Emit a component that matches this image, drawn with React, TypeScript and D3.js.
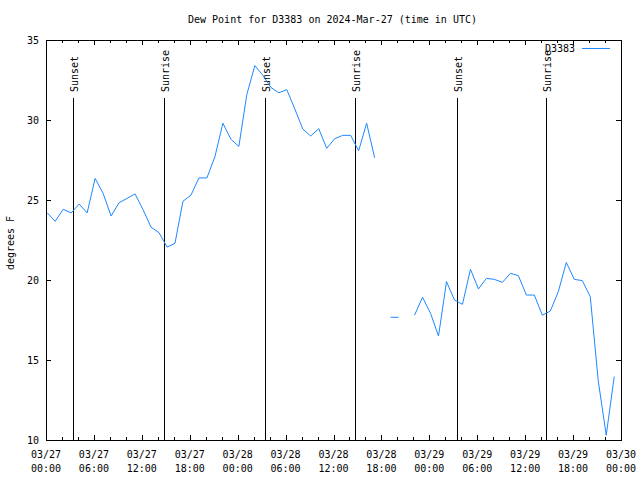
import React from "react";
import * as d3 from "d3";

const title = "Dew Point for D3383 on 2024-Mar-27 (time in UTC)";
const yLabel = "degrees F";
const seriesName = "D3383";

// hourly observations starting 2024-03-27 00:xx UTC
const startTime = "2024-03-27T00:00:00Z";
const obsMinute = 9;
const dewPoint: (number | null)[] = [
  24.2, 23.67, 24.42, 24.19, 24.75, 24.19, 26.35, 25.42, 24.0, 24.83,
  25.1, 25.38, 24.4, 23.3, 22.96, 22.06, 22.29, 24.92, 25.3, 26.38,
  26.38, 27.7, 29.8, 28.8, 28.35, 31.6, 33.4, 32.8, 32.04, 31.7,
  31.9, 30.7, 29.44, 29.0, 29.46, 28.23, 28.83, 29.04, 29.04, 28.08,
  29.8, 27.64, null, 17.67, 17.67, null, 17.8, 18.92, 17.92, 16.5,
  19.9, 18.75, 18.48, 20.67, 19.44, 20.1, 20.04, 19.85, 20.42, 20.27,
  19.06, 19.06, 17.8, 18.06, 19.27, 21.1, 20.04, 19.96, 18.96, 13.7,
  10.3, 13.96,
];

const sunEvents = [
  { label: "Sunset", time: "2024-03-27T03:25:00Z" },
  { label: "Sunrise", time: "2024-03-27T14:49:00Z" },
  { label: "Sunset", time: "2024-03-28T03:28:00Z" },
  { label: "Sunrise", time: "2024-03-28T14:44:00Z" },
  { label: "Sunset", time: "2024-03-29T03:30:00Z" },
  { label: "Sunrise", time: "2024-03-29T14:39:00Z" },
];

const xDomain = ["2024-03-27T00:00:00Z", "2024-03-30T00:00:00Z"];
const yDomain = [10, 35];
const yTicks = [10, 15, 20, 25, 30, 35];

const W = 640;
const H = 480;
const left = 46;
const right = 621;
const top = 40;
const bottom = 440;
const FONT = "'DejaVu Sans Mono', 'Liberation Mono', monospace";
const LINE_COLOR = "#1e88ff";

export default function App() {
  const x = d3
    .scaleUtc()
    .domain(xDomain.map((d) => new Date(d)))
    .range([left, right]);
  const y = d3.scaleLinear().domain(yDomain).range([bottom, top]);

  const t0 = new Date(startTime).getTime();
  const pts = dewPoint.map((v, i) => ({
    t: new Date(t0 + (i * 60 + obsMinute) * 60000),
    v,
  }));

  const line = d3
    .line<{ t: Date; v: number | null }>()
    .defined((d) => d.v != null)
    .x((d) => x(d.t))
    .y((d) => y(d.v as number));

  const minorTicks = x.ticks(d3.utcHour.every(2)!);
  const majorTicks = x.ticks(d3.utcHour.every(6)!);
  const fmtDate = d3.utcFormat("%m/%d");
  const fmtTime = d3.utcFormat("%H:%M");

  return (
    <svg
      width={W}
      height={H}
      style={{ position: "absolute", left: 0, top: 0, background: "#fff" }}
      fontFamily={FONT}
      fontSize={10}
    >
      <rect x={0} y={0} width={W} height={H} fill="#fff" />
      <text x={(left + right) / 2 - 1} y={23} textAnchor="middle" fill="#000">
        {title}
      </text>

      {/* y axis ticks + labels */}
      {yTicks.map((t) => (
        <g key={"y" + t}>
          <line x1={left} x2={left + 5} y1={Math.round(y(t)) + 0.5} y2={Math.round(y(t)) + 0.5} stroke="#000" />
          <line x1={right - 5} x2={right} y1={Math.round(y(t)) + 0.5} y2={Math.round(y(t)) + 0.5} stroke="#000" />
          <text x={39} y={y(t) + 4} textAnchor="end" fill="#000">
            {t}
          </text>
        </g>
      ))}

      {/* x ticks */}
      {minorTicks.map((t) => {
        const isMajor = t.getUTCHours() % 6 === 0;
        const len = isMajor ? 5 : 3;
        const xx = Math.round(x(t)) + 0.5;
        return (
          <g key={"xm" + t.getTime()}>
            <line x1={xx} x2={xx} y1={bottom} y2={bottom - len} stroke="#000" />
            <line x1={xx} x2={xx} y1={top} y2={top + len} stroke="#000" />
          </g>
        );
      })}
      {majorTicks.map((t) => (
        <g key={"xl" + t.getTime()}>
          <text x={x(t)} y={458} textAnchor="middle" fill="#000">
            {fmtDate(t)}
          </text>
          <text x={x(t)} y={472} textAnchor="middle" fill="#000">
            {fmtTime(t)}
          </text>
        </g>
      ))}

      <text
        transform={`translate(14,${(top + bottom) / 2 + 3}) rotate(-90)`}
        textAnchor="middle"
        fill="#000"
      >
        {yLabel}
      </text>

      {/* legend */}
      <text x={575} y={52} textAnchor="end" fill="#000">
        {seriesName}
      </text>
      <line x1={582} x2={610} y1={48.5} y2={48.5} stroke={LINE_COLOR} strokeWidth={1} />

      {/* sun events */}
      {sunEvents.map((e, i) => {
        const xx = Math.round(x(new Date(e.time))) + 0.5;
        return (
          <g key={"s" + i}>
            <line x1={xx} x2={xx} y1={98} y2={bottom} stroke="#000" strokeWidth={1} />
            <text
              transform={`translate(${xx + 4},92) rotate(-90)`}
              textAnchor="start"
              fill="#000"
            >
              {e.label}
            </text>
          </g>
        );
      })}

      {/* data */}
      <path d={line(pts) || ""} fill="none" stroke={LINE_COLOR} strokeWidth={1} />

      {/* frame */}
      <rect
        x={left + 0.5}
        y={top + 0.5}
        width={right - left}
        height={bottom - top}
        fill="none"
        stroke="#000"
        strokeWidth={1}
      />
    </svg>
  );
}
